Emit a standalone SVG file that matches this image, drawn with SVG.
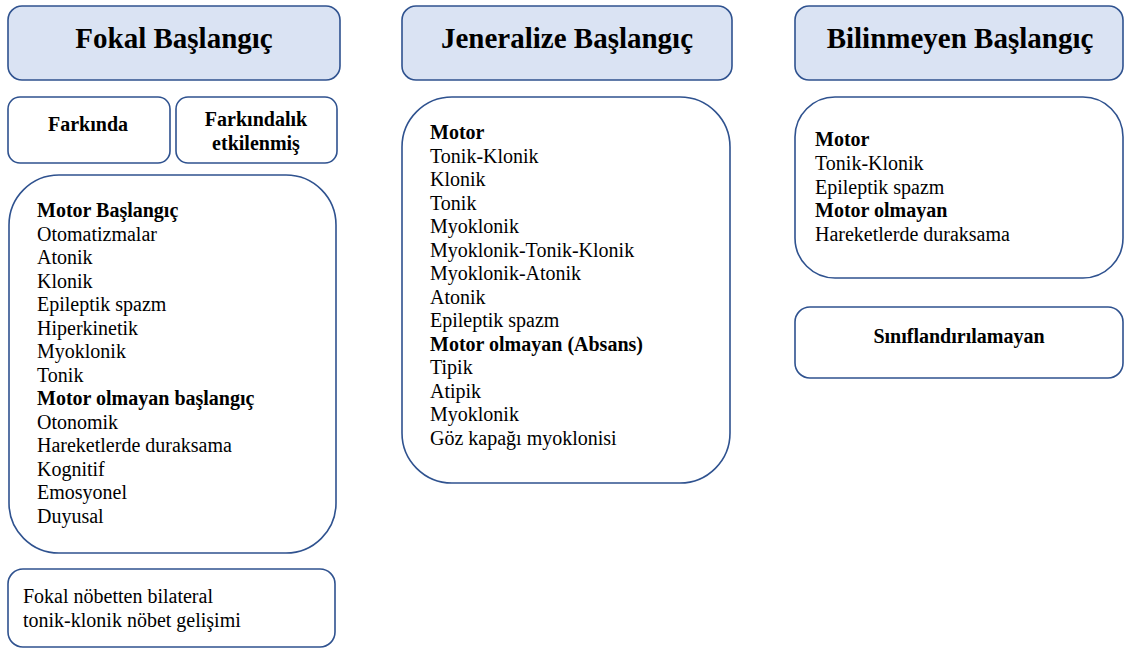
<svg xmlns="http://www.w3.org/2000/svg" width="1124" height="648" viewBox="0 0 1124 648" font-family="'Liberation Serif', 'Times New Roman', 'DejaVu Serif', serif">
<style>
.hdr{fill:#DAE3F3;stroke:#2F528F;stroke-width:1.6}
.box{fill:#FFFFFF;stroke:#2F528F;stroke-width:1.6}
.ht{font-family:'Liberation Serif','Times New Roman','DejaVu Serif',serif;font-weight:bold;font-size:29px;fill:#000;text-anchor:middle}
.bt{font-family:'Liberation Serif','Times New Roman','DejaVu Serif',serif;font-weight:bold;font-size:20px;fill:#000;text-anchor:middle}
.lt{font-family:'Liberation Serif','Times New Roman','DejaVu Serif',serif;font-size:20px;fill:#000}
.b{font-weight:bold}
</style>
<rect width="1124" height="648" fill="#FFFFFF"/>
<g id="fokal-header">
<rect class="hdr" x="8" y="6" width="332" height="74" rx="14"/>
<text class="ht" x="174" y="48">Fokal Başlangıç</text>
</g>
<g id="farkinda">
<rect class="box" x="8" y="97" width="162" height="66" rx="12"/>
<text class="bt" x="88" y="131">Farkında</text>
</g>
<g id="farkindalik">
<rect class="box" x="176" y="97" width="161" height="66" rx="12"/>
<text class="bt" x="256" y="126">Farkındalık</text>
<text class="bt" x="256" y="150">etkilenmiş</text>
</g>
<g id="fokal-list">
<rect class="box" x="9" y="175" width="327" height="378" rx="50"/>
<text class="lt" x="37" y="217">
<tspan class="b" x="37" dy="0">Motor Başlangıç</tspan>
<tspan x="37" dy="23.5">Otomatizmalar</tspan>
<tspan x="37" dy="23.5">Atonik</tspan>
<tspan x="37" dy="23.5">Klonik</tspan>
<tspan x="37" dy="23.5">Epileptik spazm</tspan>
<tspan x="37" dy="23.5">Hiperkinetik</tspan>
<tspan x="37" dy="23.5">Myoklonik</tspan>
<tspan x="37" dy="23.5">Tonik</tspan>
<tspan class="b" x="37" dy="23.5">Motor olmayan başlangıç</tspan>
<tspan x="37" dy="23.5">Otonomik</tspan>
<tspan x="37" dy="23.5">Hareketlerde duraksama</tspan>
<tspan x="37" dy="23.5">Kognitif</tspan>
<tspan x="37" dy="23.5">Emosyonel</tspan>
<tspan x="37" dy="23.5">Duyusal</tspan>
</text>
</g>
<g id="fokal-bilateral">
<rect class="box" x="8" y="569" width="327" height="78" rx="15"/>
<text class="lt" x="23" y="603">Fokal nöbetten bilateral</text>
<text class="lt" x="23" y="627">tonik-klonik nöbet gelişimi</text>
</g>
<g id="jeneralize-header">
<rect class="hdr" x="402" y="6" width="330" height="74" rx="14"/>
<text class="ht" x="567" y="48">Jeneralize Başlangıç</text>
</g>
<g id="jeneralize-list">
<rect class="box" x="402" y="97" width="328" height="386" rx="50"/>
<text class="lt" x="430" y="139">
<tspan class="b" x="430" dy="0">Motor</tspan>
<tspan x="430" dy="23.5">Tonik-Klonik</tspan>
<tspan x="430" dy="23.5">Klonik</tspan>
<tspan x="430" dy="23.5">Tonik</tspan>
<tspan x="430" dy="23.5">Myoklonik</tspan>
<tspan x="430" dy="23.5">Myoklonik-Tonik-Klonik</tspan>
<tspan x="430" dy="23.5">Myoklonik-Atonik</tspan>
<tspan x="430" dy="23.5">Atonik</tspan>
<tspan x="430" dy="23.5">Epileptik spazm</tspan>
<tspan class="b" x="430" dy="23.5">Motor olmayan (Absans)</tspan>
<tspan x="430" dy="23.5">Tipik</tspan>
<tspan x="430" dy="23.5">Atipik</tspan>
<tspan x="430" dy="23.5">Myoklonik</tspan>
<tspan x="430" dy="23.5">Göz kapağı myoklonisi</tspan>
</text>
</g>
<g id="bilinmeyen-header">
<rect class="hdr" x="795" y="6" width="328" height="74" rx="14"/>
<text class="ht" x="960" y="48">Bilinmeyen Başlangıç</text>
</g>
<g id="bilinmeyen-list">
<rect class="box" x="795" y="97" width="328" height="181" rx="40"/>
<text class="lt" x="815" y="146">
<tspan class="b" x="815" dy="0">Motor</tspan>
<tspan x="815" dy="23.75">Tonik-Klonik</tspan>
<tspan x="815" dy="23.75">Epileptik spazm</tspan>
<tspan class="b" x="815" dy="23.75">Motor olmayan</tspan>
<tspan x="815" dy="23.75">Hareketlerde duraksama</tspan>
</text>
</g>
<g id="siniflandirilamayan">
<rect class="box" x="795" y="307" width="328" height="71" rx="15"/>
<text class="bt" x="959" y="343">Sınıflandırılamayan</text>
</g>
<g id="connectors"></g>
</svg>
